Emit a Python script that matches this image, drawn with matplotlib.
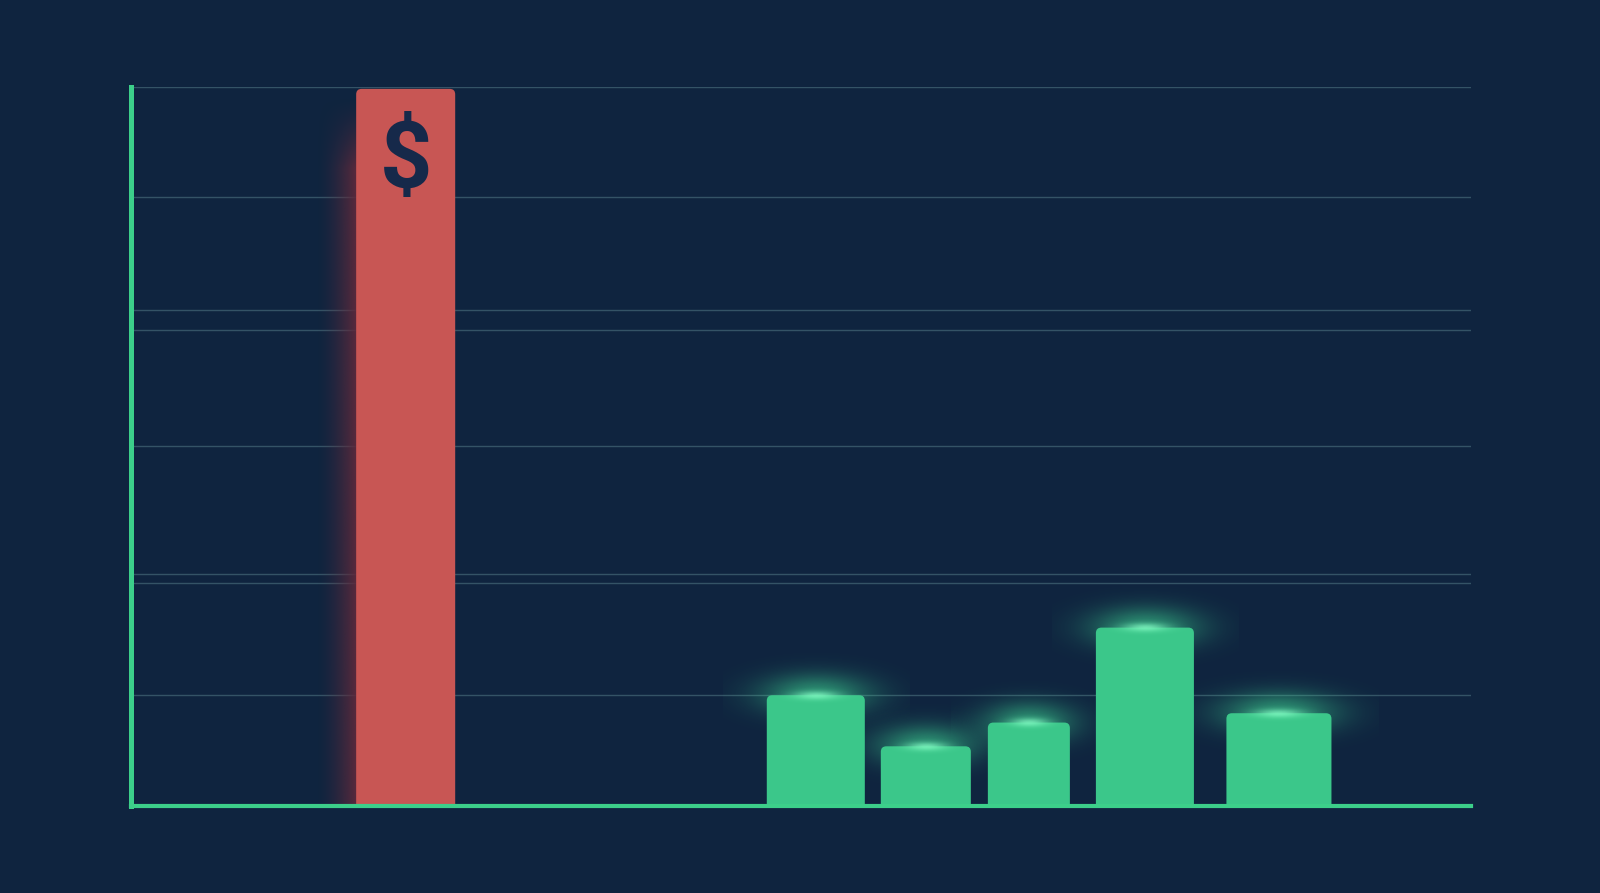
import numpy as np
import matplotlib
matplotlib.use("Agg")
import matplotlib.pyplot as plt
from matplotlib.patches import FancyBboxPatch

# ---- data ----
bar_positions = [2.75, 6.85, 7.95, 8.98, 10.14, 11.48]
bar_widths = [0.99, 0.98, 0.90, 0.82, 0.98, 1.05]
bar_values = [99.7, 15.4, 8.3, 11.6, 24.8, 12.9]
bar_kinds = ["cost", "gain", "gain", "gain", "gain", "gain"]
grid_values = [100, 84.7, 69.0, 66.2, 50.0, 32.3, 31.0, 15.4]
icon_label = "$"

BG = "#0f243f"
RED = "#c85654"
GREEN = "#3bc78a"
AXIS = "#3ccf8a"
GRID = "#345366"

fig = plt.figure(figsize=(16, 8.93), dpi=100)
fig.patch.set_facecolor(BG)
ax = fig.add_axes([130.6 / 1600, 87 / 893, (1471 - 130.6) / 1600, (806 - 86.7) / 893])
ax.set_facecolor(BG)
ax.set_xlim(0, 13.4)
ax.set_ylim(0, 100)
ax.set_xticks([])
ax.set_yticks([])
for s in ["top", "right"]:
    ax.spines[s].set_visible(False)
ax.spines["left"].set_color(AXIS)
ax.spines["left"].set_linewidth(3.6)
ax.spines["bottom"].set_color(AXIS)
ax.spines["bottom"].set_linewidth(3.0)
ax.spines["left"].set_zorder(6)
ax.spines["bottom"].set_zorder(6)

for g in grid_values:
    ax.axhline(g, color=GRID, lw=1.0, zorder=1)

# px per data unit
px_x = (1471 - 130.6) / 13.4
px_y = (806 - 86.7) / 100
aspect = px_x / px_y

for x, w, v, kind in zip(bar_positions, bar_widths, bar_values, bar_kinds):
    left = x - w / 2
    color = RED if kind == "cost" else GREEN
    if kind == "cost":
        # soft glow on the left side
        gw = 0.40
        ny, nx = 200, 64
        xx = np.linspace(0, 1, nx)[None, :]
        yy = np.linspace(0, 1, ny)[:, None]  # 0 bottom -> 1 top (origin lower)
        horiz = xx ** 1.6
        vert = np.clip((1 - yy) / 0.10, 0, 1) ** 1.3
        img = np.zeros((ny, nx, 4))
        img[..., :3] = matplotlib.colors.to_rgb("#5e2a3c")
        img[..., 3] = horiz * vert * 0.95
        ax.imshow(img, extent=[left - gw, left, 0, v - 1], aspect="auto",
                  origin="lower", zorder=2, interpolation="bilinear")
    else:
        # glow at the top
        ny, nx = 120, 160
        hx = 0.95 * w
        hy = 6.0
        xs = np.linspace(-hx, hx, nx)[None, :]
        ys = np.linspace(-hy, hy, ny)[:, None]
        a1 = np.exp(-(xs / (0.55 * w)) ** 2 - (ys / 2.8) ** 2) * 0.6
        img = np.zeros((ny, nx, 4))
        img[..., :3] = matplotlib.colors.to_rgb("#3fd894")
        img[..., 3] = np.clip(a1, 0, 1)
        ax.imshow(img, extent=[x - hx, x + hx, v - hy, v + hy], aspect="auto",
                  origin="lower", zorder=2, interpolation="bilinear", clip_on=False)
    r = 0.055
    p = FancyBboxPatch((left, -3), w, v + 3,
                       boxstyle=f"round,pad=0,rounding_size={r}",
                       mutation_aspect=aspect, fc=color, ec="none", zorder=3)
    ax.add_patch(p)
    if kind == "gain":
        ny, nx = 60, 120
        hx = 0.5 * w
        hy = 2.0
        xs = np.linspace(-hx, hx, nx)[None, :]
        ys = np.linspace(-hy, hy, ny)[:, None]
        a = np.exp(-(xs / (0.22 * w)) ** 2 - (ys / 0.6) ** 2) * 0.8
        img = np.zeros((ny, nx, 4))
        img[..., :3] = matplotlib.colors.to_rgb("#7ff7c0")
        img[..., 3] = a
        ax.imshow(img, extent=[x - hx, x + hx, v - hy, v + hy], aspect="auto",
                  origin="lower", zorder=4, interpolation="bilinear", clip_on=False)
    if kind == "cost":
        ax.text(x, 89.6, icon_label, ha="center", va="center", fontsize=66,
                color="#16294a", family=["Roboto", "DejaVu Sans"],
                fontweight="bold", zorder=5)

ax.set_xlim(0, 13.4)
ax.set_ylim(0, 100)
fig.savefig("out.png", dpi=100, facecolor=BG)
